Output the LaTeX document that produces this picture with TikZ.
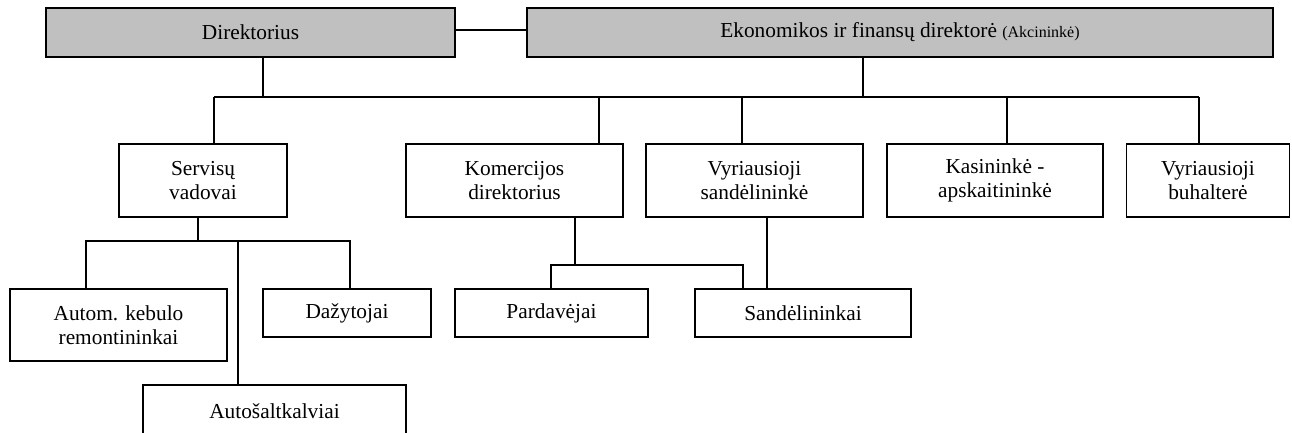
\documentclass[tikz,border=0pt]{standalone}
\usepackage{fontspec}
\setmainfont{Liberation Serif}
\usetikzlibrary{positioning}

\definecolor{boxgray}{HTML}{C0C0C0}
\tikzset{
  unit/.style={draw, line width=1.4pt, align=center, inner sep=0pt,
    font=\fontsize{16}{18}\selectfont},
  head/.style={unit, fill=boxgray},
  link/.style={line width=1.4pt}
}

\begin{document}
\begin{tikzpicture}[x=0.75pt, y=-0.75pt]
\useasboundingbox (0,0) rectangle (1292,432);
\clip (0,0) rectangle (1292,432);
% top level
\node[head, minimum width=409*0.75pt, minimum height=49*0.75pt] (dir) at (250.5,32.5) {Direktorius};
\node[head, minimum width=746*0.75pt, minimum height=49*0.75pt] (eko) at (900,32.5)
    {Ekonomikos ir finansų direktorė {\fontsize{12}{14}\selectfont(Akcininkė)}};
% second level
\node[unit, minimum width=168*0.75pt, minimum height=73*0.75pt] (serv) at (203,180.5) {Servisų\\vadovai};
\node[unit, minimum width=217*0.75pt, minimum height=73*0.75pt] (kom) at (514.5,180.5) {Komercijos\\direktorius};
\node[unit, minimum width=217*0.75pt, minimum height=73*0.75pt] (vsand) at (754.5,180.5) {Vyriausioji\\sandėlininkė};
\node[unit, minimum width=216*0.75pt, minimum height=73*0.75pt] (kas) at (995,180.5) {Kasininkė -\\apskaitininkė};
\node[unit, minimum width=163*0.75pt, minimum height=73*0.75pt] (buh) at (1208,180.5) {Vyriausioji\\buhalterė};
% third level
\node[unit, minimum width=217*0.75pt, minimum height=72*0.75pt] (autom) at (118.5,325) {Autom. kebulo\\remontininkai};
\node[unit, minimum width=168*0.75pt, minimum height=48*0.75pt] (daz) at (347,313) {Dažytojai};
\node[unit, minimum width=263*0.75pt, minimum height=52*0.75pt] (auto) at (274.5,411) {Autošaltkalviai};
\node[unit, minimum width=193*0.75pt, minimum height=48*0.75pt] (pard) at (551.5,313) {Pardavėjai};
\node[unit, minimum width=216*0.75pt, minimum height=48*0.75pt] (sand) at (803,313) {Sandėlininkai};

% connectors
\coordinate (jtop) at (0,30);
\draw[link] (dir.east |- jtop) -- (eko.west |- jtop);
\coordinate (jdir) at (263,97);
\coordinate (jeko) at (863,97);
\draw[link] (jdir |- dir.south) -- (jdir);
\draw[link] (jeko |- eko.south) -- (jeko);
\foreach \n/\x in {serv/214, kom/599, vsand/742, kas/1007, buh/1199} {
  \coordinate (j\n) at (\x,97);
  \draw[link] (j\n) -- (j\n |- \n.north);
}
\draw[link] (jserv) -- (jbuh);

\coordinate (sdown) at (198,241);
\coordinate (jautom) at (86,241);
\coordinate (jdaz) at (350,241);
\coordinate (jauto) at (238,241);
\draw[link] (sdown |- serv.south) -- (sdown);
\draw[link] (jautom |- autom.north) -- (jautom) -- (jdaz) -- (jdaz |- daz.north);
\draw[link] (jauto) -- (jauto |- auto.north);

\coordinate (kdown) at (575,265);
\coordinate (jpard) at (551,265);
\coordinate (jsand) at (743,265);
\coordinate (vdown) at (767,265);
\draw[link] (kdown |- kom.south) -- (kdown);
\draw[link] (jpard |- pard.north) -- (jpard) -- (jsand) -- (jsand |- sand.north);
\draw[link] (vdown |- vsand.south) -- (vdown |- sand.north);
\end{tikzpicture}
\end{document}
